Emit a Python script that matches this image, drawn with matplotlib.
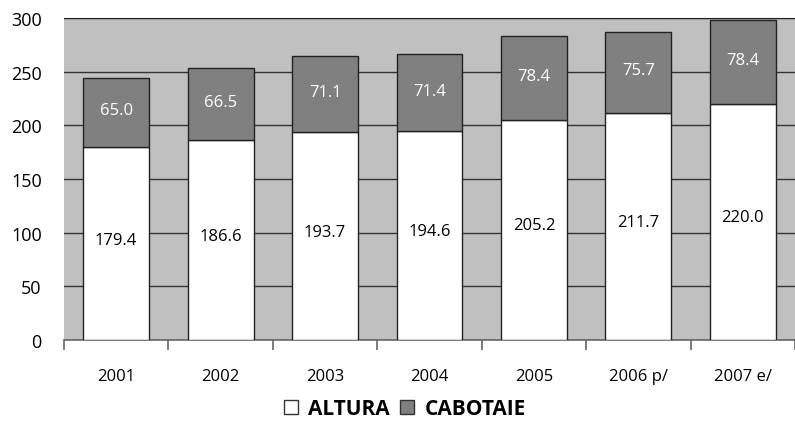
import numpy as np
import matplotlib.pyplot as plt
from matplotlib.patches import Patch

years = ["2001", "2002", "2003", "2004", "2005", "2006 p/", "2007 e/"]
altura = [179.4, 186.6, 193.7, 194.6, 205.2, 211.7, 220.0]
cabotaie = [65.0, 66.5, 71.1, 71.4, 78.4, 75.7, 78.4]

plt.rcParams['font.family'] = ['Open Sans', 'DejaVu Sans']

fig = plt.figure(figsize=(7.95, 4.27), dpi=100)
ax = fig.add_axes([64 / 795, 1 - 341 / 427, 1 - 64 / 795, (341 - 19) / 427])
ax.set_facecolor("#c0c0c0")

x = np.arange(len(years))
w = 0.63
ax.bar(x, altura, width=w, color="white", edgecolor="#222222", linewidth=1, zorder=3)
ax.bar(x, cabotaie, width=w, bottom=altura, color="#808080",
       edgecolor="#222222", linewidth=1, zorder=3)

for i in range(len(years)):
    ax.text(x[i], altura[i] * 0.52, f"{altura[i]:.1f}", ha="center", va="center",
            fontsize=12, color="black", zorder=4)
    ax.text(x[i], altura[i] + cabotaie[i] / 2 + 2, f"{cabotaie[i]:.1f}", ha="center",
            va="center", fontsize=12, color="white", zorder=4)

ax.set_ylim(0, 300)
ax.set_xlim(-0.5, 6.39)
ax.set_yticks(range(0, 301, 50))
ax.yaxis.grid(True, color="#333333", linewidth=1, zorder=1)
ax.tick_params(axis="y", length=0, labelsize=13, pad=16)

# category boundary ticks on x axis
ax.set_xticks(np.arange(-0.5, 7, 1))
ax.set_xticklabels([])
ax.tick_params(axis="x", length=7, width=1.2, color="#666666", direction="out")
ax.set_xticks(x, minor=True)
ax.set_xticklabels(years, minor=True, fontsize=12)
ax.tick_params(axis="x", which="minor", length=0, pad=20)

for s in ["left", "right"]:
    ax.spines[s].set_visible(False)
ax.spines["top"].set_color("#222222")
ax.spines["bottom"].set_color("#666666")
ax.spines["bottom"].set_linewidth(1.2)

handles = [Patch(facecolor="white", edgecolor="#333333", label="ALTURA"),
           Patch(facecolor="#808080", edgecolor="#333333", label="CABOTAIE")]
fig.legend(handles=handles, loc="center", bbox_to_anchor=(405 / 795, 1 - 410 / 427),
           ncol=2, frameon=False, handlelength=0.65, handleheight=0.65,
           handletextpad=0.5, columnspacing=0.5,
           prop={"weight": "bold", "size": 15})

fig.savefig("out.png", dpi=100)
